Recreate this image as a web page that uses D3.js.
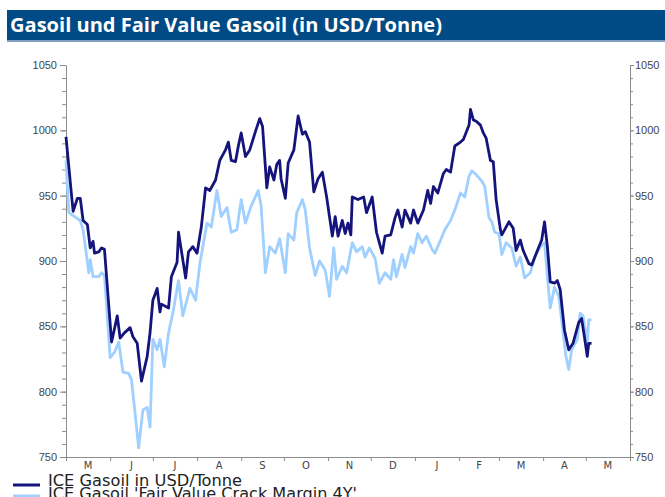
<!DOCTYPE html>
<html>
<head>
<meta charset="utf-8">
<script src="https://cdn.jsdelivr.net/npm/d3@7"></script>
<style>
  body { margin: 0; background: #fff; }
  svg { display: block; }
</style>
</head>
<body>
<svg id="chart"></svg>
<script>
const chartTitle = "Gasoil und Fair Value Gasoil (in USD/Tonne)";
const legendLabels = ["ICE Gasoil  in USD/Tonne", "ICE Gasoil  'Fair Value Crack Margin 4Y'"];
const monthLabels = ["M", "J", "J", "A", "S", "O", "N", "D", "J", "F", "M", "A", "M"];
const yMajorTicks = [750, 800, 850, 900, 950, 1000, 1050];

const gasoilDates = [
    "2012-05-01", "2012-05-05", "2012-05-06", "2012-05-09", "2012-05-11", "2012-05-13", "2012-05-16", "2012-05-18",
    "2012-05-20", "2012-05-21", "2012-05-24", "2012-05-26", "2012-05-28", "2012-06-02", "2012-06-06", "2012-06-08",
    "2012-06-11", "2012-06-15", "2012-06-17", "2012-06-20", "2012-06-23", "2012-06-27", "2012-06-29", "2012-07-01",
    "2012-07-04", "2012-07-06", "2012-07-07", "2012-07-12", "2012-07-14", "2012-07-18", "2012-07-19", "2012-07-21",
    "2012-07-24", "2012-07-26", "2012-07-29", "2012-08-01", "2012-08-04", "2012-08-07", "2012-08-10", "2012-08-14",
    "2012-08-17", "2012-08-21", "2012-08-23", "2012-08-25", "2012-08-28", "2012-08-30", "2012-09-01", "2012-09-04",
    "2012-09-07", "2012-09-11", "2012-09-14", "2012-09-16", "2012-09-19", "2012-09-21", "2012-09-24", "2012-09-26",
    "2012-09-28", "2012-09-29", "2012-10-02", "2012-10-04", "2012-10-08", "2012-10-11", "2012-10-14", "2012-10-16",
    "2012-10-19", "2012-10-22", "2012-10-25", "2012-10-28", "2012-10-31", "2012-11-04", "2012-11-06", "2012-11-08",
    "2012-11-11", "2012-11-13", "2012-11-15", "2012-11-17", "2012-11-18", "2012-11-22", "2012-11-26", "2012-11-28",
    "2012-12-02", "2012-12-05", "2012-12-09", "2012-12-11", "2012-12-15", "2012-12-18", "2012-12-20", "2012-12-23",
    "2012-12-25", "2012-12-29", "2012-12-31", "2013-01-03", "2013-01-07", "2013-01-10", "2013-01-12", "2013-01-14",
    "2013-01-17", "2013-01-21", "2013-01-23", "2013-01-26", "2013-01-29", "2013-02-02", "2013-02-04", "2013-02-08",
    "2013-02-09", "2013-02-11", "2013-02-13", "2013-02-16", "2013-02-18", "2013-02-20", "2013-02-23", "2013-02-25",
    "2013-02-27", "2013-03-02", "2013-03-03", "2013-03-08", "2013-03-11", "2013-03-13", "2013-03-16", "2013-03-18",
    "2013-03-22", "2013-03-24", "2013-03-28", "2013-03-31", "2013-04-02", "2013-04-04", "2013-04-06", "2013-04-09",
    "2013-04-11", "2013-04-13", "2013-04-16", "2013-04-19", "2013-04-22", "2013-04-26", "2013-04-28", "2013-04-30",
    "2013-05-02", "2013-05-03", "2013-05-05"
];
const gasoilValues = [
    995, 949, 938, 948, 948, 931, 928, 910,
    915, 906, 907, 910, 909, 838, 858, 841,
    845, 849, 842, 837, 808, 827, 845, 870,
    879, 861, 867, 864, 888, 899, 922, 908,
    887, 907, 911, 906, 926, 956, 954, 962,
    977, 985, 991, 977, 976, 988, 998, 980,
    985, 999, 1009, 1003, 956, 972, 962, 974,
    977, 963, 948, 975, 985, 1011, 997, 999,
    991, 953, 963, 968, 949, 919, 934, 919,
    931, 921, 929, 920, 949, 947, 949, 937,
    949, 922, 906, 919, 920, 933, 939, 926,
    939, 929, 939, 929, 939, 954, 944, 957,
    952, 967, 970, 968, 988, 991, 993, 1004,
    1016, 1008, 1007, 1004, 998, 994, 977, 976,
    947, 924, 920, 930, 925, 908, 916, 908,
    898, 897, 908, 916, 930, 911, 884, 883,
    885, 878, 847, 832, 837, 853, 856, 842,
    827, 837, 837
];

const fairDates = [
    "2012-05-01", "2012-05-03", "2012-05-07", "2012-05-11", "2012-05-13", "2012-05-17", "2012-05-18", "2012-05-20",
    "2012-05-24", "2012-05-26", "2012-05-28", "2012-06-01", "2012-06-04", "2012-06-07", "2012-06-10", "2012-06-14",
    "2012-06-16", "2012-06-20", "2012-06-21", "2012-06-24", "2012-06-27", "2012-06-29", "2012-07-01", "2012-07-04",
    "2012-07-06", "2012-07-09", "2012-07-12", "2012-07-15", "2012-07-19", "2012-07-22", "2012-07-27", "2012-07-31",
    "2012-08-03", "2012-08-08", "2012-08-11", "2012-08-15", "2012-08-18", "2012-08-22", "2012-08-25", "2012-08-29",
    "2012-09-01", "2012-09-04", "2012-09-08", "2012-09-13", "2012-09-15", "2012-09-18", "2012-09-21", "2012-09-25",
    "2012-09-28", "2012-10-02", "2012-10-04", "2012-10-08", "2012-10-10", "2012-10-14", "2012-10-16", "2012-10-19",
    "2012-10-23", "2012-10-26", "2012-10-30", "2012-11-02", "2012-11-05", "2012-11-07", "2012-11-11", "2012-11-14",
    "2012-11-18", "2012-11-21", "2012-11-25", "2012-11-27", "2012-11-30", "2012-12-04", "2012-12-07", "2012-12-11",
    "2012-12-15", "2012-12-17", "2012-12-19", "2012-12-23", "2012-12-25", "2012-12-29", "2012-12-31", "2013-01-03",
    "2013-01-06", "2013-01-09", "2013-01-13", "2013-01-15", "2013-01-19", "2013-01-22", "2013-01-26", "2013-01-29",
    "2013-02-02", "2013-02-05", "2013-02-08", "2013-02-10", "2013-02-13", "2013-02-17", "2013-02-19", "2013-02-22",
    "2013-02-24", "2013-02-26", "2013-03-01", "2013-03-03", "2013-03-06", "2013-03-10", "2013-03-13", "2013-03-16",
    "2013-03-19", "2013-03-23", "2013-03-26", "2013-03-30", "2013-04-02", "2013-04-04", "2013-04-06", "2013-04-09",
    "2013-04-12", "2013-04-14", "2013-04-17", "2013-04-19", "2013-04-21", "2013-04-25", "2013-04-27", "2013-04-29",
    "2013-05-02", "2013-05-03", "2013-05-05"
];
const fairValues = [
    977, 937, 934, 931, 924, 891, 901, 888,
    888, 891, 889, 826, 830, 838, 815, 814,
    809, 768, 757, 786, 788, 773, 840, 832,
    840, 819, 845, 860, 885, 858, 879, 870,
    898, 929, 926, 954, 934, 941, 922, 924,
    947, 929, 942, 954, 942, 891, 911, 906,
    917, 891, 921, 916, 937, 947, 939, 910,
    889, 900, 893, 873, 910, 886, 896, 891,
    914, 907, 911, 903, 910, 902, 883, 891,
    886, 901, 888, 905, 895, 911, 906, 921,
    914, 919, 909, 906, 916, 924, 931, 939,
    952, 949, 965, 969, 966, 961, 957, 933,
    930, 922, 921, 905, 914, 910, 896, 903,
    887, 891, 903, 911, 914, 888, 864, 880,
    873, 855, 827, 817, 832, 840, 860, 858,
    837, 855, 855
];

const width = 665, height = 497;
const plot = { left: 66, right: 630, top: 65, bottom: 457 };

const svg = d3.select("#chart")
    .attr("width", width)
    .attr("height", height)
    .style("font-family", "'DejaVu Sans', sans-serif");

// title bar
svg.append("rect")
    .attr("x", 7).attr("y", 10)
    .attr("width", width - 7).attr("height", 31)
    .attr("fill", "#004a85");
svg.append("rect")
    .attr("x", 7).attr("y", 40)
    .attr("width", width - 7).attr("height", 2)
    .attr("fill", "#7f9fc0");
svg.append("text")
    .attr("x", 10).attr("y", 32)
    .attr("fill", "#fff")
    .style("font-family", "'Liberation Sans Narrow', 'Open Sans', sans-serif")
    .style("font-weight", "bold")
    .style("font-size", "19px")
    .attr("textLength", 432)
    .attr("lengthAdjust", "spacingAndGlyphs")
    .text(chartTitle);

const parse = d3.timeParse("%Y-%m-%d");
const gasoil = gasoilDates.map((d, i) => ({ date: parse(d), value: gasoilValues[i] }));
const fair = fairDates.map((d, i) => ({ date: parse(d), value: fairValues[i] }));

const x = d3.scaleTime()
    .domain([new Date(2012, 4, 1), new Date(2013, 5, 1)])
    .range([plot.left, plot.right]);

const y = d3.scaleLinear()
    .domain([750, 1050])
    .range([plot.bottom, plot.top]);

const minorTicks = d3.range(750, 1051, 10);
const axisColor = "#8c8c8c";
const labelColor = "#444";

function styleAxis(g) {
    g.selectAll("path, line").attr("stroke", axisColor);
    g.selectAll("text").attr("fill", labelColor).style("font-size", "11px");
}

// left axis
svg.append("g")
    .attr("transform", `translate(${plot.left},0)`)
    .call(d3.axisLeft(y).tickValues(minorTicks).tickSize(4).tickFormat("").tickSizeOuter(0))
    .call(styleAxis);
svg.append("g")
    .attr("transform", `translate(${plot.left},0)`)
    .call(d3.axisLeft(y).tickValues(yMajorTicks).tickSize(6).tickPadding(3).tickFormat(d3.format("d")).tickSizeOuter(0))
    .call(styleAxis)
    .call(g => g.select(".domain").remove());

// right axis
svg.append("g")
    .attr("transform", `translate(${plot.right},0)`)
    .call(d3.axisRight(y).tickValues(minorTicks).tickSize(3).tickFormat("").tickSizeOuter(0))
    .call(styleAxis);
svg.append("g")
    .attr("transform", `translate(${plot.right},0)`)
    .call(d3.axisRight(y).tickValues(yMajorTicks).tickSize(4).tickPadding(1).tickFormat(d3.format("d")).tickSizeOuter(0))
    .call(styleAxis)
    .call(g => g.select(".domain").remove());

// bottom axis
const monthStarts = d3.timeMonth.range(new Date(2012, 4, 1), new Date(2013, 5, 2));
svg.append("g")
    .attr("transform", `translate(0,${plot.bottom})`)
    .call(d3.axisBottom(x).tickValues(monthStarts).tickSize(4).tickFormat("").tickSizeOuter(0))
    .call(styleAxis);

svg.append("g")
    .selectAll("text")
    .data(monthStarts.slice(0, -1))
    .enter().append("text")
    .attr("x", (d, i) => (x(d) + x(monthStarts[i + 1])) / 2)
    .attr("y", plot.bottom + 12)
    .attr("text-anchor", "middle")
    .attr("fill", labelColor)
    .style("font-size", "10px")
    .text((d, i) => monthLabels[i]);

// lines
const line = d3.line()
    .x(d => x(d.date))
    .y(d => y(d.value));

svg.append("path")
    .datum(fair)
    .attr("fill", "none")
    .attr("stroke", "#9fd0ff")
    .attr("stroke-width", 2.8)
    .attr("stroke-linejoin", "round")
    .attr("d", line);

svg.append("path")
    .datum(gasoil)
    .attr("fill", "none")
    .attr("stroke", "#14147c")
    .attr("stroke-width", 2.8)
    .attr("stroke-linejoin", "round")
    .attr("d", line);

// legend (second row is cut by the page edge, as in the original)
const legendColors = ["#14147c", "#9fd0ff"];
const legendTextWidths = [194, 309];
const legend = svg.append("g");
legendLabels.forEach((label, i) => {
    legend.append("line")
        .attr("x1", 13).attr("x2", 40)
        .attr("y1", 485 + i * 11).attr("y2", 485 + i * 11)
        .attr("stroke", legendColors[i])
        .attr("stroke-width", 3);
    legend.append("text")
        .attr("x", 48)
        .attr("y", 486 + i * 13)
        .attr("fill", "#222")
        .style("font-family", "'Liberation Sans Narrow', 'DejaVu Sans Condensed', sans-serif")
        .style("font-size", "15px")
        .attr("textLength", legendTextWidths[i])
        .attr("lengthAdjust", "spacingAndGlyphs")
        .text(label);
});
</script>
</body>
</html>
